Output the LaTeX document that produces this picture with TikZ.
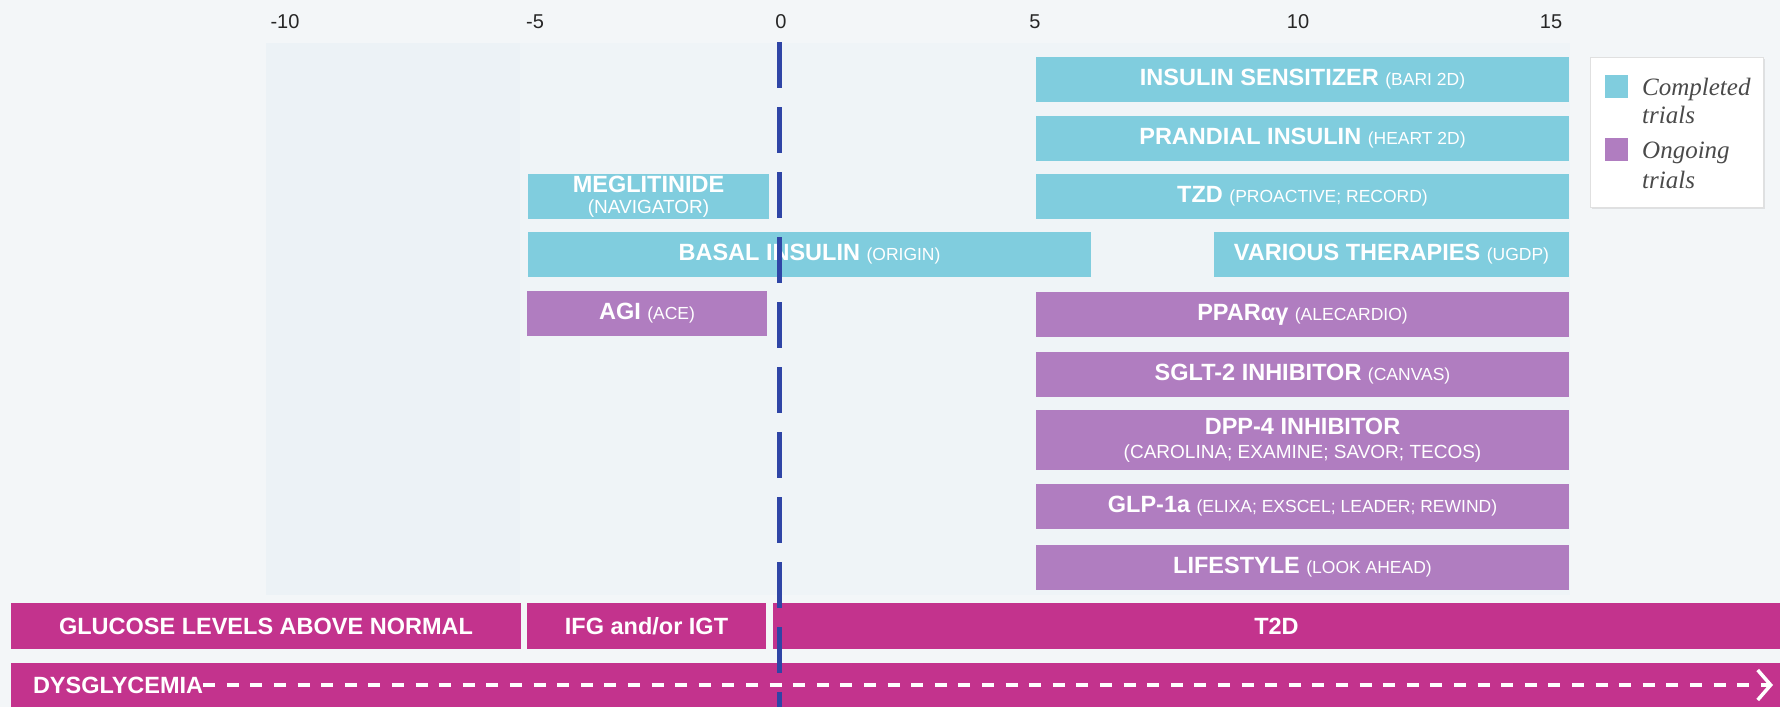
\documentclass[tikz,border=0pt]{standalone}
\usepackage{fontspec}
\setmainfont{Liberation Sans}
\newfontfamily\legendfont{Liberation Serif}
\usetikzlibrary{arrows.meta,shadows}
\definecolor{bgc}{HTML}{F3F6F8}
\definecolor{areac}{HTML}{EFF4F7}
\definecolor{bandc}{HTML}{ECF2F6}
\definecolor{cyanbar}{HTML}{80CDDE}
\definecolor{purplebar}{HTML}{B07DC0}
\definecolor{magbar}{HTML}{C3338D}
\definecolor{zeroline}{HTML}{2F45A6}
\definecolor{legtext}{HTML}{4A4A4A}
\newcommand\subt[1]{{\mdseries\fontsize{17.5}{20}\selectfont #1}}
\newcommand\subl[1]{{\mdseries\fontsize{19}{22}\selectfont #1}}
\tikzset{
  barbase/.style={inner sep=0pt, outer sep=0pt, text=white, align=center,
    font=\bfseries\fontsize{23.5}{23}\selectfont},
  cbar/.style={barbase, fill=cyanbar},
  pbar/.style={barbase, fill=purplebar},
  mbar/.style={barbase, fill=magbar},
  sz/.style 2 args={minimum width=#1pt, minimum height=#2pt},
  ticklab/.style={font=\fontsize{20}{24}\selectfont, text=black!85, inner sep=0pt},
  legbox/.style={fill=white, draw=black!12, line width=0.8pt,
    drop shadow={opacity=0.18, shadow xshift=1.5pt, shadow yshift=-1.5pt}},
  swatch/.style={minimum size=23pt, inner sep=0pt},
  legtxt/.style={font=\legendfont\itshape\fontsize{25}{29}\selectfont, text=legtext, inner sep=0pt, anchor=base west},
  zerol/.style={draw=zeroline, line width=5pt, dash pattern=on 46pt off 19pt},
  dysarrow/.style={draw=white, line width=3.5pt, dash pattern=on 12pt off 11.6pt,
    -{Straight Barb[length=13pt, width=30pt, line width=3.5pt]}}
}
\begin{document}
\begin{tikzpicture}[x=1pt, y=-1pt]
\useasboundingbox (0,0) rectangle (1780,707);
\fill[bgc] (0,0) rectangle (1780,707);
\fill[areac] (266,43) rectangle (1570,595);
\fill[bandc] (266,43) rectangle (520,595);

% axis labels
\node[ticklab] (tm10) at (285,22) {-10};
\node[ticklab] (tm5) at (535,22) {-5};
\node[ticklab] (t0) at (781,22) {0};
\node[ticklab] (t5) at (1035,22) {5};
\node[ticklab] (t10) at (1298,22) {10};
\node[ticklab] (t15) at (1551,22) {15};

% completed trials
\node[cbar, sz={533}{45}] (ins) at (1302.5,79.5) {INSULIN SENSITIZER \subt{(BARI 2D)}};
\node[cbar, sz={533}{45}] (pran) at (1302.5,138.5) {PRANDIAL INSULIN \subt{(HEART 2D)}};
\node[cbar, sz={533}{45}] (tzd) at (1302.5,196.5) {TZD \subt{(PROACTIVE; RECORD)}};
\node[cbar, sz={241}{45}] (meg) at (648.5,196.5) {MEGLITINIDE\\[-2pt]\subl{(NAVIGATOR)}};
\node[cbar, sz={563}{45}] (basal) at (809.5,254.5) {BASAL INSULIN \subt{(ORIGIN)}};
\node[cbar, sz={355}{45}] (var) at (1391.5,254.5) {VARIOUS THERAPIES \subt{(UGDP)}};

% ongoing trials
\node[pbar, sz={240}{45}] (agi) at (647,313.5) {AGI \subt{(ACE)}};
\node[pbar, sz={533}{45}] (ppar) at (1302.5,314.5) {PPARαγ \subt{(ALECARDIO)}};
\node[pbar, sz={533}{45}] (sglt) at (1302.5,374.5) {SGLT-2 INHIBITOR \subt{(CANVAS)}};
\node[pbar, sz={533}{60}] (dpp) at (1302.5,440) {DPP-4 INHIBITOR\\[1pt]\subl{(CAROLINA; EXAMINE; SAVOR; TECOS)}};
\node[pbar, sz={533}{45}] (glp) at (1302.5,506.5) {GLP-1a \subt{(ELIXA; EXSCEL; LEADER; REWIND)}};
\node[pbar, sz={533}{45}] (life) at (1302.5,567.5) {LIFESTYLE \subt{(LOOK AHEAD)}};

% stages
\node[mbar, sz={510}{46}] (glu) at (266,626) {GLUCOSE LEVELS ABOVE NORMAL};
\node[mbar, sz={239}{46}] (ifg) at (646.5,626) {IFG and/or IGT};
\node[mbar, sz={1007}{46}] (t2d) at (1276.5,626) {T2D};
\node[mbar, sz={1769}{44}] (dys) at (895.5,685) {};
\node[barbase, anchor=west] (dyst) at (33,685) {DYSGLYCEMIA};
\coordinate (dysend) at (1773,685);
\draw[dysarrow] (dyst.east) -- (dysend);

% legend
\node[legbox, minimum width=173pt, minimum height=150pt, inner sep=0pt] (leg) at (1676.5,132) {};
\node[swatch, fill=cyanbar] (sw1) at (1616.5,86) {};
\node[swatch, fill=purplebar] (sw2) at (1616.5,149) {};
\node[legtxt] (lt1) at (1642,95) {Completed};
\node[legtxt] (lt2) at (1642,123) {trials};
\node[legtxt] (lt3) at (1642,158) {Ongoing};
\node[legtxt] (lt4) at (1642,188) {trials};

% zero line
\coordinate (ztop) at (779,42);
\coordinate (zbot) at (779,707);
\draw[zerol] (ztop) -- (zbot);
\end{tikzpicture}
\end{document}
